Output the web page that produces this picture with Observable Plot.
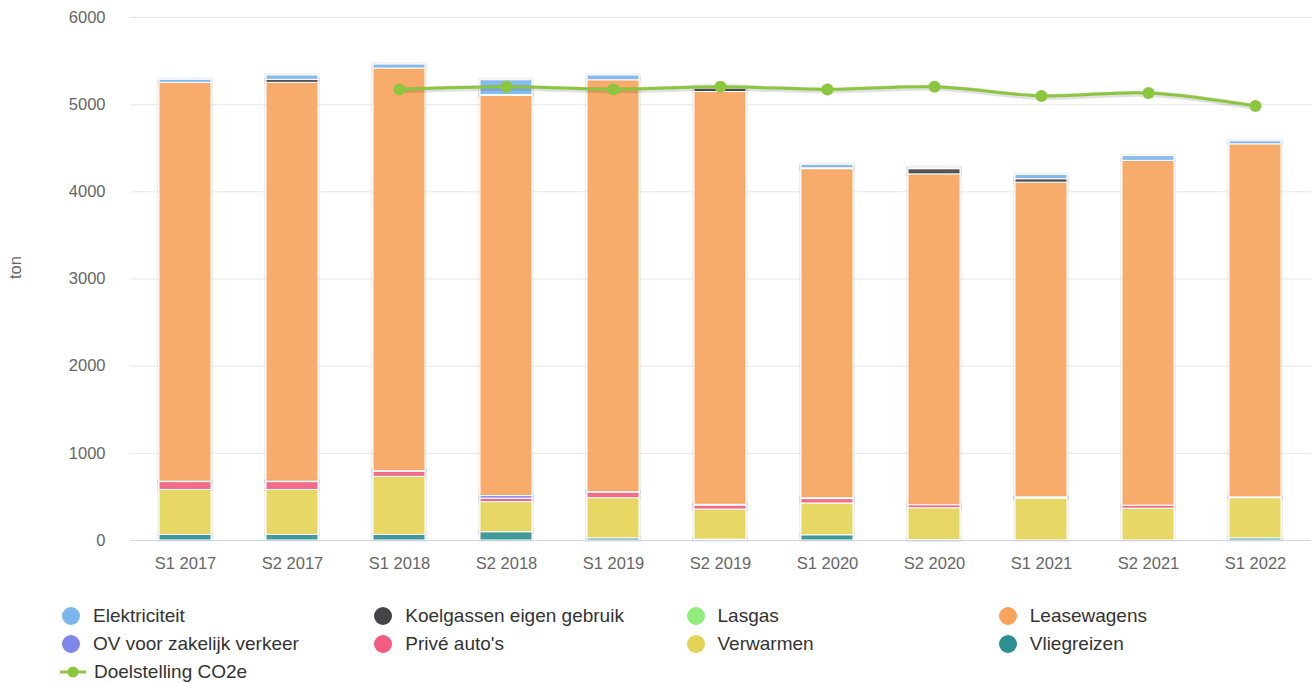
<!DOCTYPE html>
<html>
<head>
<meta charset="utf-8">
<script src="https://cdn.jsdelivr.net/npm/d3@7"></script>
<script src="https://cdn.jsdelivr.net/npm/@observablehq/plot@0.6"></script>
<style>
  body { margin: 0; background: #fff; font-family: "Liberation Sans", Arial, sans-serif; }
  #wrap { position: relative; width: 1311px; height: 684px; }
  #legend { position: absolute; left: 0; top: 602px; width: 1311px; }
  .row { display: flex; height: 28px; align-items: center; }
  .item { width: 312.5px; display: flex; align-items: center; font-size: 19px; color: #333; white-space: nowrap; }
  .item:first-child { margin-left: 62px; }
  .sym { width: 18px; height: 18px; border-radius: 50%; margin-right: 13px; flex: none; }
  .lsym { position: relative; width: 26px; height: 18px; margin-right: 8px; margin-left: -2px; flex: none; }
</style>
</head>
<body>
<div id="wrap">
  <div id="chart"></div>
  <div id="legend"></div>
</div>
<script>
const periods = ["S1 2017","S2 2017","S1 2018","S2 2018","S1 2019","S2 2019","S1 2020","S2 2020","S1 2021","S2 2021","S1 2022"];

// Series (legend order)
const seriesNames = ["Elektriciteit","Koelgassen eigen gebruik","Lasgas","Leasewagens","OV voor zakelijk verkeer","Privé auto's","Verwarmen","Vliegreizen"];
const seriesColors = ["#7cb5ec","#434348","#90ed7d","#f7a35c","#8085e9","#f15c80","#e4d354","#2b908f"];

const elektriciteit = [35, 50, 45, 170, 55, 30, 40, 10, 50, 55, 35];
const koelgassen    = [0, 35, 0, 10, 0, 40, 10, 60, 40, 0, 0];
const lasgas        = [0, 0, 0, 0, 0, 0, 0, 0, 0, 0, 0];
const leasewagens   = [4575, 4575, 4620, 4590, 4725, 4735, 3775, 3795, 3610, 3955, 4050];
const ov            = [5, 5, 5, 30, 5, 10, 10, 0, 10, 0, 0];
const prive         = [90, 90, 60, 40, 65, 45, 50, 35, 5, 35, 10];
const verwarmen     = [515, 515, 665, 345, 460, 345, 365, 365, 480, 365, 460];
const vliegreizen   = [65, 65, 65, 95, 25, 10, 60, 5, 0, 0, 25];

const doelstelling  = [null, null, 5175, 5205, 5175, 5205, 5175, 5205, 5100, 5135, 4985];
const doelName = "Doelstelling CO2e";
const doelColor = "#8cc63f";

const yTicks = [0, 1000, 2000, 3000, 4000, 5000, 6000];

// stacking bottom -> top
const stackOrder = [
  ["Vliegreizen", vliegreizen],
  ["Verwarmen", verwarmen],
  ["Privé auto's", prive],
  ["OV voor zakelijk verkeer", ov],
  ["Leasewagens", leasewagens],
  ["Lasgas", lasgas],
  ["Koelgassen eigen gebruik", koelgassen],
  ["Elektriciteit", elektriciteit]
];
const rows = [];
for (const [name, vals] of stackOrder) {
  periods.forEach((p, i) => { if (vals[i] > 0) rows.push({period: p, series: name, value: vals[i]}); });
}
const lineData = periods.map((p, i) => ({period: p, value: doelstelling[i]})).filter(d => d.value != null);

const chart = Plot.plot({
  width: 1311,
  height: 590,
  marginTop: 17,
  marginBottom: 50,
  marginLeft: 130,
  marginRight: 0,
  style: { fontFamily: "'Liberation Sans', Arial, sans-serif", fontSize: "16.5px", color: "#666" },
  x: { domain: periods, paddingInner: 0.51, paddingOuter: 0.255, label: null },
  y: { domain: [0, 6000], label: null },
  color: { domain: seriesNames, range: seriesColors },
  marks: [
    Plot.gridY(yTicks, { stroke: "#e6e6e6", strokeOpacity: 1 }),
    Plot.axisY(yTicks, { tickSize: 0, tickPadding: 25, fontSize: 16.5, fill: "#666", label: null, tickFormat: d => String(d) }),
    Plot.text(["ton"], { frameAnchor: "left", dx: -115, rotate: -90, fill: "#666", fontSize: 16.5 }),
    Plot.axisX({ tickSize: 0, tickPadding: 17, fontSize: 16.5, fill: "#666", label: null }),
    Plot.barY(rows, Plot.stackY({ x: "period", y: "value", z: "series", order: null,
      fill: "none", stroke: "#000", strokeOpacity: 0.06, strokeWidth: 4 })),
    Plot.barY(rows, Plot.stackY({ x: "period", y: "value", z: "series", order: null,
      fill: "series", fillOpacity: 0.9, stroke: "#fff", strokeWidth: 1 })),
    Plot.ruleY([0], { stroke: "#ccd6eb" }),
    Plot.line(lineData, { x: "period", y: "value", curve: "catmull-rom", stroke: "#000", strokeOpacity: 0.12, strokeWidth: 6, dx: 1, dy: 1 }),
    Plot.line(lineData, { x: "period", y: "value", curve: "catmull-rom", stroke: doelColor, strokeWidth: 3 }),
    Plot.dot(lineData, { x: "period", y: "value", r: 6, fill: doelColor, stroke: "none" })
  ]
});
document.getElementById("chart").appendChild(chart);

// Legend
const legend = document.getElementById("legend");
const items = seriesNames.map((n, i) => ({name: n, color: seriesColors[i], line: false}));
items.push({name: doelName, color: doelColor, line: true});
for (let r = 0; r < Math.ceil(items.length / 4); r++) {
  const row = document.createElement("div");
  row.className = "row";
  items.slice(r * 4, r * 4 + 4).forEach(it => {
    const el = document.createElement("div");
    el.className = "item";
    if (it.line) {
      el.innerHTML = `<svg class="lsym" width="26" height="18"><line x1="0" x2="26" y1="9" y2="9" stroke="${it.color}" stroke-width="3"/><circle cx="13" cy="9" r="5.5" fill="${it.color}"/></svg><span>${it.name}</span>`;
    } else {
      el.innerHTML = `<span class="sym" style="background:${it.color}"></span><span>${it.name}</span>`;
    }
    row.appendChild(el);
  });
  legend.appendChild(row);
}
</script>
</body>
</html>
